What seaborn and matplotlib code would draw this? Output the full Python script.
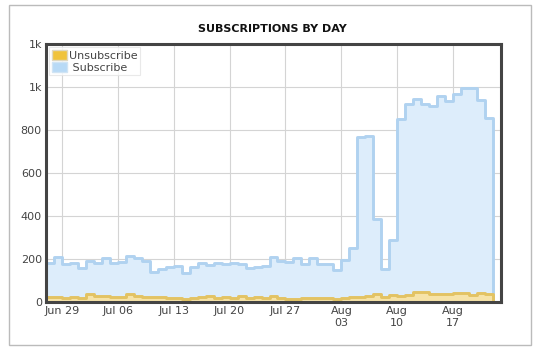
import pandas as pd
import numpy as np
import matplotlib
matplotlib.use('Agg')
import matplotlib.pyplot as plt
from matplotlib.patches import Patch, Rectangle
import seaborn as sns

sns.set_style('white')
plt.rcParams['font.family'] = ['DejaVu Sans']

# daily counts, Jun 27 .. Aug 22
start_date = '2015-06-27'
subscribe = [180, 211, 177, 183, 157, 192, 180, 203, 180, 188,
             214, 205, 192, 141, 152, 161, 167, 136, 164, 183,
             172, 183, 177, 180, 177, 157, 164, 167, 208, 192,
             188, 203, 177, 203, 177, 177, 149, 195, 253, 769,
             774, 385, 152, 288, 850, 923, 943, 923, 912, 958,
             935, 966, 994, 994, 938, 858, 0]
unsubscribe = [25, 25, 20, 22, 18, 35, 28, 27, 22, 25,
               37, 28, 25, 22, 25, 20, 18, 12, 20, 22,
               27, 20, 22, 20, 27, 20, 22, 18, 30, 20,
               15, 15, 17, 18, 18, 17, 15, 20, 25, 25,
               28, 37, 22, 33, 30, 33, 48, 47, 37, 36,
               37, 44, 44, 33, 42, 37, 0]
tick_dates = ['2015-06-29', '2015-07-06', '2015-07-13', '2015-07-20',
              '2015-07-27', '2015-08-03', '2015-08-10', '2015-08-17']
tick_labels = ['Jun 29', 'Jul 06', 'Jul 13', 'Jul 20', 'Jul 27',
               'Aug\n03', 'Aug\n10', 'Aug\n17']
y_ticks = [0, 200, 400, 600, 800, 1000, 1200]
y_labels = ['0', '200', '400', '600', '800', '1k', '1k']

days = pd.date_range(start_date, periods=len(subscribe), freq='D')
df = pd.DataFrame({'day': days, 'Subscribe': subscribe, 'Unsubscribe': unsubscribe})

sub_line, sub_fill = '#b0d2f0', '#ddedfb'
uns_line, uns_fill = '#e3c363', '#f6e3a8'

fig = plt.figure(figsize=(5.36, 3.57), dpi=100)
fig.patches.append(Rectangle((9 / 536, 1 - 345 / 357), 522 / 536, 340 / 357,
                             transform=fig.transFigure, fill=False,
                             edgecolor='#bbbbbb', linewidth=1))
ax = fig.add_axes([46 / 536, 1 - 302 / 357, 455 / 536, 258 / 357])

# subscribe area
ax.fill_between(df['day'], df['Subscribe'], step='post', color=sub_fill, linewidth=0, zorder=1)
sns.lineplot(data=df, x='day', y='Subscribe', drawstyle='steps-post', color=sub_line,
             linewidth=2.1, ax=ax, zorder=2)
# unsubscribe area
ax.fill_between(df['day'], df['Unsubscribe'], step='post', color=uns_fill, linewidth=0, zorder=3)
sns.lineplot(data=df, x='day', y='Unsubscribe', drawstyle='steps-post', color=uns_line,
             linewidth=2.1, ax=ax, zorder=4)

ax.set_xlim(pd.Timestamp(start_date), pd.Timestamp('2015-08-23'))
ax.set_ylim(0, 1200)
ax.set_xticks(pd.to_datetime(tick_dates))
ax.set_xticklabels(tick_labels)
ax.set_yticks(y_ticks)
ax.set_yticklabels(y_labels)
ax.set_xlabel('')
ax.set_ylabel('')
ax.grid(True, color='#d4d4d4', linewidth=0.8)
ax.set_axisbelow(True)
ax.tick_params(axis='both', labelsize=8, colors='#444444', length=0, pad=3)
for s in ax.spines.values():
    s.set_color('#444444')
    s.set_linewidth(2.2)
    s.set_zorder(5)

fig.text(272 / 536, 1 - 29 / 357, 'SUBSCRIPTIONS BY DAY', ha='center', va='center',
         fontsize=8, fontweight='bold', color='#111111')

handles = [Patch(facecolor='#f0c33c', edgecolor='#e0d8c0', label='Unsubscribe'),
           Patch(facecolor='#b8daf6', edgecolor='#d0e4f4', label=' Subscribe')]
leg = ax.legend(handles=handles, loc='upper left', bbox_to_anchor=(0.0, 1.0),
                fontsize=8, frameon=True, fancybox=False, handlelength=1.4,
                handleheight=1.1, handletextpad=0.2, borderpad=0.2,
                labelspacing=0.1, borderaxespad=0.3, labelcolor='#444444')
leg.get_frame().set_edgecolor('#e4e4e4')
leg.get_frame().set_linewidth(0.8)

fig.savefig('out.png', dpi=100)
